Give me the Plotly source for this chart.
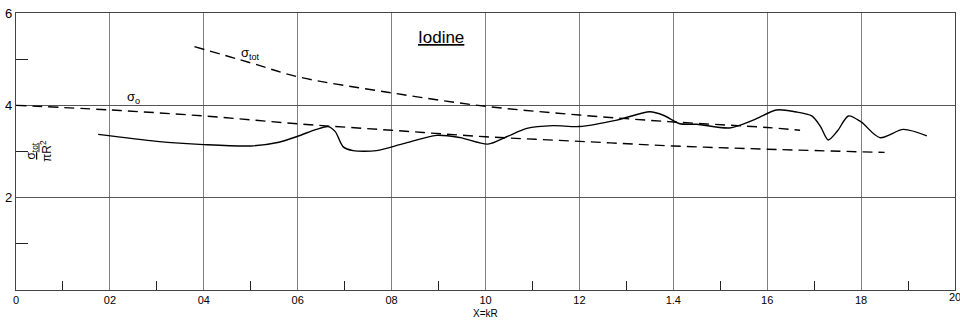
import plotly.graph_objects as go

# Total cross section curve (solid), sigma_tot/(pi R^2) vs x = kR
x_meas = [0.175, 0.30, 0.40, 0.50, 0.56, 0.60, 0.64, 0.665, 0.68, 0.697, 0.718, 0.768,
          0.825, 0.896, 0.946, 1.005, 1.045, 1.088, 1.144, 1.20, 1.28, 1.35, 1.38,
          1.414, 1.45, 1.52, 1.57, 1.62, 1.66, 1.695, 1.713, 1.73, 1.75, 1.773, 1.80,
          1.84, 1.89, 1.94]
y_meas = [3.37, 3.22, 3.15, 3.12, 3.20, 3.33, 3.48, 3.54, 3.43, 3.10, 3.02, 3.02,
          3.17, 3.35, 3.30, 3.16, 3.32, 3.50, 3.56, 3.54, 3.68, 3.86, 3.78,
          3.60, 3.59, 3.51, 3.68, 3.90, 3.86, 3.77, 3.55, 3.25, 3.45, 3.77, 3.64,
          3.30, 3.48, 3.34]

# Dashed curves
x_tot = [0.38, 0.50, 0.60, 0.80, 1.00, 1.20, 1.40, 1.60, 1.67]
y_tot = [5.27, 4.92, 4.62, 4.27, 3.98, 3.79, 3.64, 3.52, 3.46]

x_o = [0.0, 0.2, 0.4, 0.6, 0.8, 1.0, 1.2, 1.4, 1.6, 1.85]
y_o = [4.00, 3.90, 3.77, 3.60, 3.46, 3.32, 3.22, 3.12, 3.05, 2.98]

x_ticks = [0, 0.2, 0.4, 0.6, 0.8, 1.0, 1.2, 1.4, 1.6, 1.8]
x_ticktext = ["0", "02", "04", "06", "08", "10", "12", "1.4", "16", "18"]
x_last_tick = 2.0
x_last_text = "20"
y_ticks = [2, 4, 6]
y_ticktext = ["2", "4", "6"]

FONT = "Liberation Sans"

fig = go.Figure()
fig.add_trace(go.Scatter(x=x_tot, y=y_tot, mode="lines", line_shape="spline",
                         line=dict(color="black", width=1.4, dash="10px,6px"),
                         hoverinfo="skip"))
fig.add_trace(go.Scatter(x=x_o, y=y_o, mode="lines", line_shape="spline",
                         line=dict(color="black", width=1.4, dash="10px,6px"),
                         hoverinfo="skip"))
fig.add_trace(go.Scatter(x=x_meas, y=y_meas, mode="lines",
                         line=dict(color="black", width=1.4, shape="spline", smoothing=0.8),
                         hoverinfo="skip"))

fig.update_layout(
    width=960, height=320,
    margin=dict(l=16, r=5, t=13, b=30),
    paper_bgcolor="white", plot_bgcolor="white",
    showlegend=False,
    font=dict(family=FONT, color="black"),
    xaxis=dict(range=[0, 2.0], tickvals=x_ticks, ticktext=x_ticktext,
               showgrid=True, gridcolor="#808080", gridwidth=1,
               showline=True, linecolor="#444", linewidth=1.2, mirror=True,
               ticks="", zeroline=False,
               tickfont=dict(size=11, family=FONT),
               minor=dict(tickvals=[0.1, 0.3, 0.5, 0.7, 0.9, 1.1, 1.3, 1.5, 1.7, 1.9],
                          ticks="inside", ticklen=9, tickcolor="#222", tickwidth=1.2,
                          showgrid=False)),
    yaxis=dict(range=[0, 6], tickvals=y_ticks, ticktext=y_ticktext,
               showgrid=True, gridcolor="#555", gridwidth=1,
               showline=True, linecolor="#444", linewidth=1.2, mirror=True,
               ticks="", zeroline=False,
               tickfont=dict(size=13, family=FONT),
               minor=dict(tickvals=[1, 3, 5], ticks="inside", ticklen=12,
                          tickcolor="#222", tickwidth=1.2, showgrid=False)),
)

# last x tick label sits on the right border and runs off the page edge
fig.add_annotation(x=x_last_tick, y=0, xref="x", yref="paper", yshift=-7,
                   yanchor="middle", text=x_last_text, showarrow=False,
                   font=dict(size=11, family=FONT))

fig.add_annotation(x=0.905, y=5.48, xref="x", yref="y", text="<u>Iodine</u>",
                   showarrow=False, font=dict(size=17, family=FONT))
fig.add_annotation(x=0.50, y=5.13, xref="x", yref="y", text="σ<sub>tot</sub>",
                   showarrow=False, font=dict(size=13, family=FONT))
fig.add_annotation(x=0.25, y=4.16, xref="x", yref="y", text="σ<sub>o</sub>",
                   showarrow=False, font=dict(size=13, family=FONT))
fig.add_annotation(x=0.048, y=3.0, xref="x", yref="y",
                   text="<u>σ<sub>tot</sub></u><br>πR<sup>2</sup>", textangle=-90,
                   showarrow=False, font=dict(size=12, family=FONT))
fig.add_annotation(x=1.0, y=0, xref="x", yref="paper", yshift=-23, yanchor="middle",
                   text="X=kR", showarrow=False, font=dict(size=10, family=FONT))

fig.write_html("out.html")
